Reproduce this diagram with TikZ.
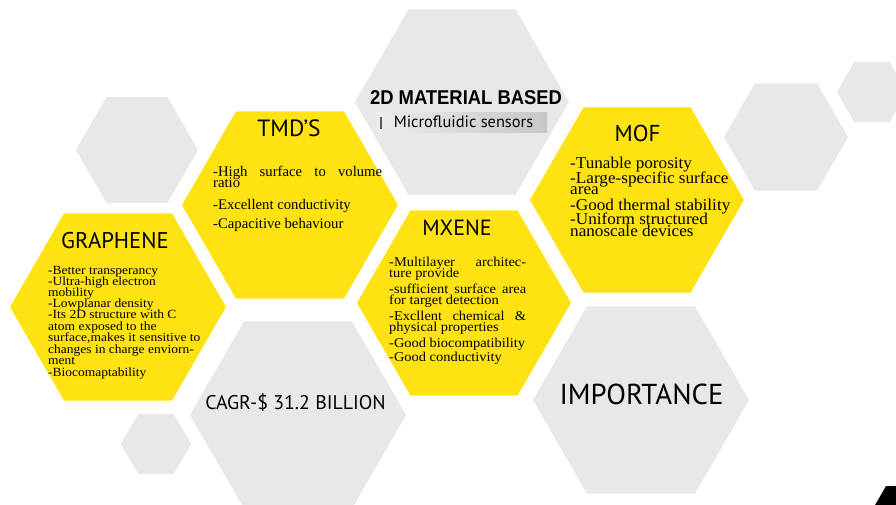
\documentclass[tikz,border=0pt]{standalone}
\usepackage{fontspec}
\setmainfont{Liberation Serif}
\newfontfamily\headfont{PT Sans}
\newfontfamily\arialfont{Liberation Sans}
\newfontfamily\serifG[FakeStretch=1.08]{Liberation Serif}
\newfontfamily\serifX[FakeStretch=1.07]{Liberation Serif}
\newfontfamily\serifM[FakeStretch=1.04]{Liberation Serif}
\usetikzlibrary{shapes.geometric}
\definecolor{hexyellow}{RGB}{255,226,18}
\definecolor{hexgray}{RGB}{232,232,232}
\tikzset{
  hex/.style={regular polygon, regular polygon sides=6, minimum size=#1, inner sep=0pt, draw=none},
  head/.style={anchor=base, inner sep=0pt, font=\headfont\fontsize{#1}{#1}\selectfont},
  gbody/.style={anchor=base west, inner sep=0pt, font=\serifG\fontsize{12.5}{12.5}\selectfont},
  tbody/.style={anchor=base west, inner sep=0pt, font=\fontsize{14.7}{14.7}\selectfont},
  xbody/.style={anchor=base west, inner sep=0pt, font=\serifX\fontsize{13.5}{13.5}\selectfont},
  mbody/.style={anchor=base west, inner sep=0pt, font=\serifM\fontsize{16.5}{16.5}\selectfont},
}
\begin{document}
\begin{tikzpicture}[x=1pt,y=-1pt]
\useasboundingbox (0,0) rectangle (896,505);
\clip (0,0) rectangle (896,505);
\fill[white] (0,0) rectangle (896,505);
% gray hexagons
\node[hex=122pt, fill=hexgray] (gleft) at (137,150) {};
\node[hex=214pt, fill=hexgray] (gtop) at (462,102) {};
\node[hex=124pt, fill=hexgray] (gright) at (786,137) {};
\node[hex=70pt, fill=hexgray] (gfar) at (872,92) {};
\node[hex=216pt, fill=hexgray] (gcagr) at (298,415) {};
\node[hex=70pt, fill=hexgray] (gsmall) at (156,444) {};
\node[hex=216pt, fill=hexgray] (gimp) at (641,400) {};
\node[hex=120pt, fill=black] (gblack) at (916,538) {};
% yellow hexagons
\node[hex=216pt, fill=hexyellow] (ytmd) at (290,205) {};
\node[hex=216pt, fill=hexyellow] (ygra) at (118,307) {};
\node[hex=214pt, fill=hexyellow] (ymx) at (464,303) {};
\node[hex=214pt, fill=hexyellow] (ymof) at (637,200) {};
% title
\node[anchor=base, inner sep=0pt, font=\arialfont\bfseries\fontsize{20}{20}\selectfont] (title) at (466,105) {\scalebox{0.92}[1]{2D MATERIAL BASED}};
\shade[left color=hexgray!80!white, right color=black!22] (377,113) rectangle (547,133);
\fill[black!65] (380,117) rectangle (381.5,129);
\node[anchor=base, inner sep=0pt, font=\headfont\fontsize{16.4}{16.4}\selectfont] (sub) at (463.5,128) {Microfluidic sensors};
% headings
\node[head=22.7] (hgra) at (115,248) {GRAPHENE};
\node[head=23.5] (htmd) at (289,137) {TMD’S};
\node[head=22] (hmx) at (457,235) {MXENE};
\node[head=23] (hmof) at (637.5,142) {MOF};
\node[head=19.8] (hcagr) at (295.5,409) {CAGR-\$ 31.2 BILLION};
\node[head=28.8] (himp) at (641.5,404) {IMPORTANCE};
% graphene body
\node[gbody] (g1) at (48,274) {-Better transperancy};
\node[gbody] (g2) at (48,285) {-Ultra-high electron};
\node[gbody] (g3) at (48,296) {mobility};
\node[gbody] (g4) at (48,307) {-Lowplanar density};
\node[gbody] (g5) at (48,318.5) {-Its 2D structure with C};
\node[gbody] (g6) at (48,330) {atom exposed to the};
\node[gbody] (g7) at (48,341.5) {surface,makes it sensitive to};
\node[gbody] (g8) at (48,353) {changes in charge enviorn-};
\node[gbody] (g9) at (48,364) {ment};
\node[gbody] (g10) at (48,376) {-Biocomaptability};
% TMD body
\node[tbody] (t1) at (213,177) {\makebox[169pt][s]{-High surface to volume}};
\node[tbody] (t2) at (213,187) {ratio};
\node[tbody] (t3) at (213,209) {-Excellent conductivity};
\node[tbody] (t4) at (213,228) {-Capacitive behaviour};
% MXENE body
\node[xbody] (x1) at (389,266) {\makebox[137pt][s]{-Multilayer architec-}};
\node[xbody] (x2) at (389,277) {ture provide};
\node[xbody] (x3) at (389,293) {\makebox[137pt][s]{-sufficient surface area}};
\node[xbody] (x4) at (389,304) {for target detection};
\node[xbody] (x5) at (389,320) {\makebox[137pt][s]{-Excllent chemical \&}};
\node[xbody] (x6) at (389,331) {physical properties};
\node[xbody] (x7) at (389,347) {-Good biocompatibility};
\node[xbody] (x8) at (389,361) {-Good conductivity};
% MOF body
\node[mbody] (m1) at (570,168) {-Tunable porosity};
\node[mbody] (m2) at (570,183) {-Large-specific surface};
\node[mbody] (m3) at (570,194) {area};
\node[mbody] (m4) at (570,210) {-Good thermal stability};
\node[mbody] (m5) at (570,224) {-Uniform structured};
\node[mbody] (m6) at (570,236) {nanoscale devices};
\end{tikzpicture}
\end{document}
